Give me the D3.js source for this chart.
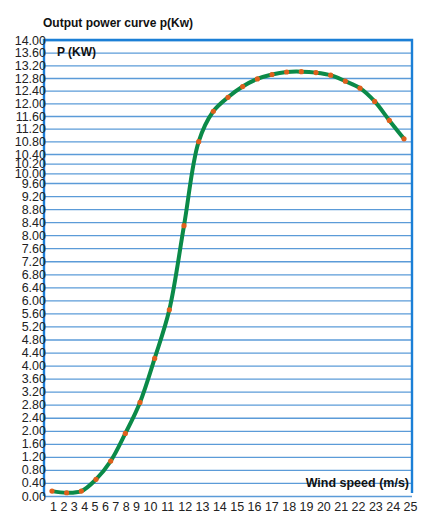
<!DOCTYPE html>
<html lang="en">
<head>
    <meta charset="UTF-8">
    <title>Output power curve</title>
    <script src="https://d3js.org/d3.v7.min.js"></script>
    <style>
        body { margin: 0; background: #fff; }
        svg { display: block; font-family: "Liberation Sans", Arial, sans-serif; }
        .tick text { fill: #222; font-size: 12.5px; }
        .grid line { stroke: #5b9bd8; stroke-width: 1.3px; }
        .grid .domain { display: none; }
        .bold { font-weight: bold; fill: #111; }
    </style>
</head>
<body>
    <svg></svg>
    <script>
        // wind speed (m/s) and output power (kW)
        const windSpeed = [1, 2, 3, 4, 5, 6, 7, 8, 9, 10, 11, 12, 13, 14, 15, 16, 17, 18, 19, 20, 21, 22, 23, 24, 25];
        const power = [0.15, 0.10, 0.15, 0.51, 1.07, 1.92, 2.87, 4.22, 5.71, 8.29, 10.79, 11.75, 12.19,
                       12.53, 12.77, 12.91, 12.99, 13.00, 12.97, 12.89, 12.70, 12.48, 12.06, 11.46, 10.88];
        // y tick labels, top to bottom (the original axis is not evenly scaled)
        const yTicks = [14.00, 13.60, 13.20, 12.80, 12.40, 12.00, 11.60, 11.20, 10.80, 10.40, 10.20, 10.00,
                        9.60, 9.20, 8.80, 8.40, 8.00, 7.60, 7.20, 6.80, 6.40, 6.00, 5.60, 5.20, 4.80, 4.40,
                        4.00, 3.60, 3.20, 2.80, 2.40, 2.00, 1.60, 1.20, 0.80, 0.40, 0.00];

        const width = 425, height = 518;
        const plotLeft = 44, plotRight = 412, plotTop = 40, plotBottom = 496;

        const svg = d3.select("svg").attr("width", width).attr("height", height);

        // rows of the grid sit a little tighter around 10.00
        const row = d3.scaleLinear().domain([0, 9, 12, yTicks.length - 1]).range([plotTop, 154, 183, plotBottom]);
        const y = d3.scaleLinear()
            .domain(yTicks)
            .range(yTicks.map((d, i) => row(i)));

        const x = d3.scaleLinear().domain([1, 25]).range([52, 404]);
        // tick labels run like plain text, narrower for one digit
        const xLab = d3.scaleLinear().domain([1, 9, 10, 25]).range([53, 136, 150, 410]);

        // grid
        svg.append("g")
            .attr("class", "grid")
            .attr("transform", `translate(${plotLeft},0)`)
            .call(d3.axisLeft(y).tickValues(yTicks).tickSize(-(plotRight - plotLeft)).tickFormat(""));

        // frame
        svg.append("path")
            .attr("d", `M${plotLeft},${plotBottom}V${plotTop}H${plotRight}V${plotBottom - 3}`)
            .attr("fill", "none")
            .attr("stroke", "#1b7fd6")
            .attr("stroke-width", 2.4);

        // y labels
        const yAxis = svg.append("g")
            .attr("transform", `translate(${plotLeft + 2},0)`)
            .call(d3.axisLeft(y).tickValues(yTicks).tickSize(0).tickPadding(0).tickFormat(d3.format(".2f")));
        yAxis.select(".domain").remove();

        // x labels
        const xAxis = svg.append("g")
            .attr("transform", `translate(0,${plotBottom + 4})`)
            .call(d3.axisBottom(xLab).tickValues(windSpeed).tickSize(0).tickPadding(2).tickFormat(d3.format("d")));
        xAxis.select(".domain").remove();

        // curve
        const line = d3.line()
            .x((d, i) => x(windSpeed[i]))
            .y(d => y(d))
            .curve(d3.curveCatmullRom.alpha(0.5));

        svg.append("path")
            .datum(power)
            .attr("d", line)
            .attr("fill", "none")
            .attr("stroke", "#0b8a48")
            .attr("stroke-width", 4)
            .attr("stroke-linejoin", "round");

        svg.append("g")
            .selectAll("circle")
            .data(power)
            .join("circle")
            .attr("cx", (d, i) => x(windSpeed[i]))
            .attr("cy", d => y(d))
            .attr("r", 2.6)
            .attr("fill", "#e0601c");

        // titles
        svg.append("text").attr("class", "bold")
            .attr("x", 43).attr("y", 27)
            .attr("font-size", 12)
            .text("Output power curve p(Kw)");

        svg.append("text").attr("class", "bold")
            .attr("x", 57).attr("y", 56)
            .attr("font-size", 12)
            .text("P (KW)");

        svg.append("text").attr("class", "bold")
            .attr("x", 409).attr("y", 487)
            .attr("text-anchor", "end")
            .attr("font-size", 12.5)
            .text("Wind speed (m/s)");
    </script>
</body>
</html>
